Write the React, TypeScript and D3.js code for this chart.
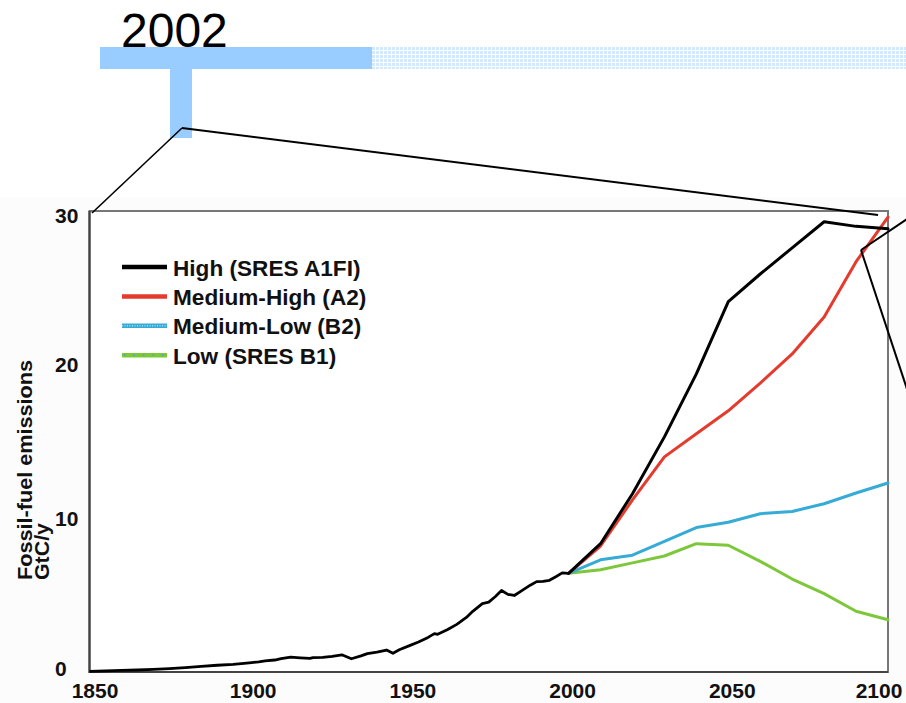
import React from "react";
import * as d3 from "d3";

// Historical fossil-fuel emissions, GtC/y
const histYears = [1850, 1855, 1860, 1865, 1870, 1875, 1880, 1885, 1890, 1895, 1900, 1903, 1905, 1908, 1910, 1913, 1916, 1919, 1920, 1923, 1926, 1929, 1932, 1935, 1937, 1940, 1943, 1945, 1947, 1950, 1953, 1956, 1958, 1959, 1962, 1965, 1968, 1970, 1973, 1975, 1977, 1979, 1981, 1983, 1985, 1988, 1990, 1992, 1994, 1996, 1998, 2000];
const histValues = [0.04, 0.07, 0.1, 0.13, 0.17, 0.22, 0.29, 0.36, 0.44, 0.5, 0.6, 0.66, 0.72, 0.78, 0.87, 0.97, 0.92, 0.88, 0.93, 0.95, 1.02, 1.12, 0.86, 1.05, 1.2, 1.3, 1.43, 1.22, 1.45, 1.7, 1.95, 2.25, 2.5, 2.45, 2.75, 3.1, 3.55, 3.95, 4.45, 4.55, 4.9, 5.3, 5.05, 4.98, 5.25, 5.65, 5.88, 5.9, 5.97, 6.2, 6.45, 6.42];

// Scenario projections, GtC/y
const scenarioYears = [2000, 2010, 2020, 2030, 2040, 2050, 2060, 2070, 2080, 2090, 2100];
const highA1FI = [6.42, 8.35, 11.6, 15.3, 19.4, 24.1, 25.9, 27.6, 29.3, 29.0, 28.85];
const mediumHighA2 = [6.42, 8.2, 11.2, 14.0, 15.5, 17.0, 18.8, 20.7, 23.1, 26.7, 29.6];
const mediumLowB2 = [6.42, 7.3, 7.6, 8.5, 9.4, 9.75, 10.3, 10.45, 10.95, 11.65, 12.3];
const lowB1 = [6.42, 6.65, 7.1, 7.55, 8.35, 8.25, 7.2, 6.05, 5.1, 3.95, 3.4];

const seriesNames = ["High (SRES A1FI)", "Medium-High (A2)", "Medium-Low (B2)", "Low (SRES B1)"];
const seriesColors = ["#000000", "#e53a2c", "#35abd6", "#7dc73a"];
const seriesValues = [highA1FI, mediumHighA2, mediumLowB2, lowB1];

const xTicks = [1850, 1900, 1950, 2000, 2050, 2100];
const yTicks = [0, 10, 20, 30];
const yTitleLines = ["Fossil-fuel emissions", "GtC/y"];
const headerLabel = "2002";

const W = 906;
const H = 703;
const plot = { left: 89.5, right: 888, top: 211, bottom: 672 };
const FONT = "'Liberation Sans', Arial, Helvetica, sans-serif";

export default function App() {
  const x = d3.scaleLinear().domain([1850, 2100]).range([plot.left, plot.right]);
  const y = d3.scaleLinear().domain([0, 30]).range([plot.bottom, plot.top]);

  const line = d3
    .line<[number, number]>()
    .x((d) => x(d[0]))
    .y((d) => y(d[1]));

  const histPath = line(histYears.map((yr, i) => [yr, histValues[i]]));
  const scenarioPaths = seriesValues.map((vals) =>
    line(scenarioYears.map((yr, i) => [yr, vals[i]]))
  );

  const legendY = (i: number) => 267 + i * 29.4;

  return (
    <svg
      width={W}
      height={H}
      style={{ position: "absolute", left: 0, top: 0, background: "#fff" }}
      fontFamily={FONT}
    >
      <defs>
        <pattern id="barDots" width="4" height="4" patternUnits="userSpaceOnUse" x="372" y="47">
          <rect width="4" height="4" fill="#ffffff" />
          <rect width="3" height="3" fill="#d3e9ff" />
        </pattern>
      </defs>

      <rect x={0} y={0} width={W} height={H} fill="#ffffff" />
      <rect x={0} y={197} width={W} height={H - 197} fill="#fcfcfc" />

      {/* timeline header */}
      <text x={121} y={47} fontSize={48} fill="#000">
        {headerLabel}
      </text>
      <rect x={100} y={47} width={272} height={22} fill="#99ccff" />
      <rect x={372} y={47} width={W - 372} height={22} fill="url(#barDots)" />
      <rect x={170} y={69} width={22} height={69} fill="#99ccff" />

      {/* plot frame */}
      <rect
        x={plot.left}
        y={plot.top}
        width={plot.right - plot.left}
        height={plot.bottom - plot.top}
        fill="#ffffff"
        stroke="#777"
        strokeWidth={2}
      />
      <path
        d={`M${plot.left},${plot.top}V${plot.bottom}H${plot.right}`}
        fill="none"
        stroke="#444"
        strokeWidth={2.2}
      />

      {/* data lines */}
      {[3, 2, 1, 0].map((i) => (
        <path
          key={seriesNames[i]}
          d={scenarioPaths[i] || ""}
          fill="none"
          stroke={seriesColors[i]}
          strokeWidth={3}
          strokeLinejoin="round"
          strokeLinecap="round"
        />
      ))}
      <path
        d={histPath || ""}
        fill="none"
        stroke="#000"
        strokeWidth={2.8}
        strokeLinejoin="round"
      />

      {/* axis tick labels */}
      {xTicks.map((t) => {
        const cx = Math.min(879, Math.max(95, x(t) + 4));
        return (
          <text key={t} x={cx} y={698} fontSize={21} fontWeight="bold" textAnchor="middle" fill="#111">
            {t}
          </text>
        );
      })}
      {yTicks.map((t) => {
        const cy = Math.min(668, Math.max(215, y(t)));
        return (
          <text key={t} x={55} y={cy + 7.5} fontSize={21} fontWeight="bold" fill="#111">
            {t}
          </text>
        );
      })}

      {/* y-axis title */}
      {yTitleLines.map((s, i) => (
        <text
          key={s}
          transform={`translate(${32 + i * 17},580) rotate(-90)`}
          fontSize={20}
          fontWeight="bold"
          fill="#111"
          textLength={i === 0 ? 220 : 57}
          lengthAdjust="spacingAndGlyphs"
        >
          {s}
        </text>
      ))}

      {/* legend */}
      {seriesNames.map((name, i) => (
        <g key={name}>
          <line x1={122} x2={167} y1={legendY(i)} y2={legendY(i)} stroke={seriesColors[i]} strokeWidth={4.5} />
          {i === 2 && (
            <line x1={122} x2={167} y1={legendY(i)} y2={legendY(i)} stroke="#a8def2" strokeWidth={1.4} strokeDasharray="1 1.5" />
          )}
          {i === 3 && (
            <line x1={124} x2={167} y1={legendY(i)} y2={legendY(i)} stroke="#4b9fd0" strokeWidth={1.4} strokeDasharray="1.5 8" />
          )}
          <text x={173} y={legendY(i) + 8.5} fontSize={22.6} fontWeight="bold" fill="#111">
            {name}
          </text>
        </g>
      ))}

      {/* callout lines */}
      <g stroke="#000" fill="none">
        <line x1={182} y1={128} x2={92} y2={213} strokeWidth={1.6} />
        <line x1={182} y1={128} x2={878} y2={215} strokeWidth={2} />
        <line x1={907} y1={219} x2={861} y2={250} strokeWidth={2} />
        <line x1={861} y1={250} x2={908} y2={392} strokeWidth={2} />
      </g>
    </svg>
  );
}
